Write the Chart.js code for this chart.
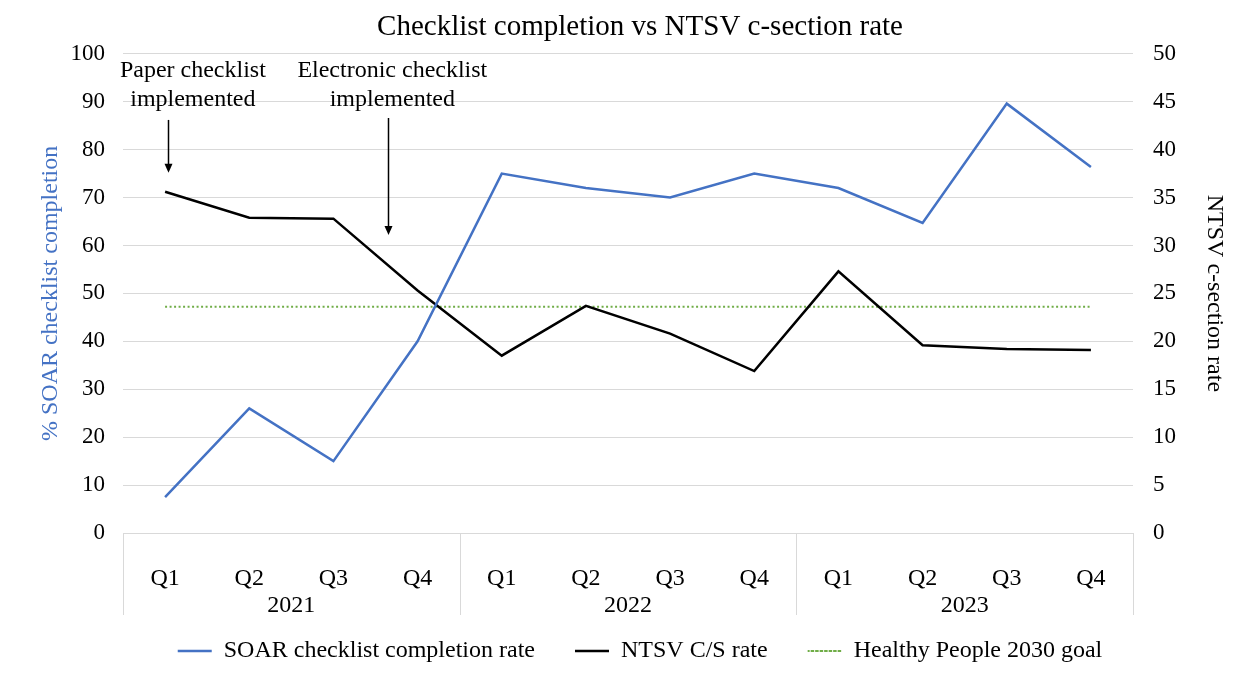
<!DOCTYPE html>
<html>
<head>
<meta charset="utf-8">
<script src="https://cdn.jsdelivr.net/npm/chart.js@4"></script>
<style>
  html, body { margin: 0; padding: 0; background: #fff; }
  #wrap { width: 1249px; height: 686px; }
</style>
</head>
<body>
<div id="wrap"><canvas id="chart" width="1249" height="686"></canvas></div>
<script>
const quarters = ['Q1', 'Q2', 'Q3', 'Q4', 'Q1', 'Q2', 'Q3', 'Q4', 'Q1', 'Q2', 'Q3', 'Q4'];
const years = ['2021', '2022', '2023'];
// % SOAR checklist completion (left axis)
const checklistRate = [7.5, 26, 15, 40, 75, 72, 70, 75, 72, 64.7, 89.6, 76.4];
// NTSV c-section rate (right axis)
const csRate = [35.6, 32.9, 32.8, 25.3, 18.5, 23.7, 20.8, 16.9, 27.3, 19.6, 19.2, 19.1];
// Healthy People 2030 goal (right axis)
const goalRate = [23.6, 23.6, 23.6, 23.6, 23.6, 23.6, 23.6, 23.6, 23.6, 23.6, 23.6, 23.6];

// annotations: x in category index units, y in left axis units
const notes = [
  { lines: ['Paper checklist', 'implemented'], textX: 0.33, arrowX: 0.04, textY: [96.5, 90.4], arrowFrom: 86.2, arrowTo: 75.2 },
  { lines: ['Electronic checklist', 'implemented'], textX: 2.7, arrowX: 2.65, textY: [96.5, 90.4], arrowFrom: 86.6, arrowTo: 62.2 }
];

const FONT = "'Liberation Serif', 'Times New Roman', serif";
const BLUE = '#4472C4';
const GRID = '#d9d9d9';

let xAt = (scale, v) => {
  let i = Math.floor(v);
  let a = scale.getPixelForValue(i);
  let b = scale.getPixelForValue(i + 1);
  return a + (b - a) * (v - i);
};

const extras = {
  id: 'extras',
  afterDraw(chart) {
    let ctx = chart.ctx;
    let x = chart.scales.x;
    let x2 = chart.scales.x2;
    let y = chart.scales.y;
    let bottom = chart.chartArea.bottom;
    let step = x.getPixelForValue(1) - x.getPixelForValue(0);
    ctx.save();
    // year separators under the axis
    ctx.strokeStyle = GRID;
    ctx.lineWidth = 1;
    for (let k = 0; k <= quarters.length; k += 4) {
      let px = Math.round(x.getPixelForValue(k) - step / 2) + 0.5;
      ctx.beginPath();
      ctx.moveTo(px, bottom);
      ctx.lineTo(px, bottom + 82);
      ctx.stroke();
    }
    // year labels, placed on the x2 category scale
    ctx.fillStyle = '#000';
    ctx.font = '24px ' + FONT;
    ctx.textAlign = 'center';
    ctx.textBaseline = 'middle';
    years.forEach((yr, i) => ctx.fillText(yr, x2.getPixelForValue(i), bottom + 73));
    // annotations
    ctx.strokeStyle = '#000';
    notes.forEach(n => {
      let tx = xAt(x, n.textX);
      n.lines.forEach((t, i) => ctx.fillText(t, tx, y.getPixelForValue(n.textY[i])));
      let ax = Math.round(xAt(x, n.arrowX)) + 0.5;
      let y0 = y.getPixelForValue(n.arrowFrom);
      let y1 = y.getPixelForValue(n.arrowTo);
      ctx.lineWidth = 1.5;
      ctx.beginPath();
      ctx.moveTo(ax, y0);
      ctx.lineTo(ax, y1 - 8);
      ctx.stroke();
      ctx.beginPath();
      ctx.moveTo(ax - 4, y1 - 9);
      ctx.lineTo(ax + 4, y1 - 9);
      ctx.lineTo(ax, y1);
      ctx.closePath();
      ctx.fill();
    });
    ctx.restore();
  }
};

new Chart(document.getElementById('chart'), {
  type: 'line',
  data: {
    labels: quarters,
    datasets: [
      {
        label: 'SOAR checklist completion rate',
        data: checklistRate,
        yAxisID: 'y',
        borderColor: BLUE,
        backgroundColor: BLUE,
        borderWidth: 2.5,
        pointRadius: 0,
        tension: 0
      },
      {
        label: 'NTSV C/S rate',
        data: csRate,
        yAxisID: 'y1',
        borderColor: '#000',
        backgroundColor: '#000',
        borderWidth: 2.5,
        pointRadius: 0,
        tension: 0
      },
      {
        label: 'Healthy People 2030 goal',
        data: goalRate,
        yAxisID: 'y1',
        borderColor: '#70AD47',
        backgroundColor: 'transparent',
        borderWidth: 2,
        borderDash: [2, 2.5],
        pointRadius: 0,
        tension: 0
      }
    ]
  },
  options: {
    responsive: false,
    animation: false,
    layout: { padding: { left: 31, right: 0, top: 4, bottom: 13 } },
    plugins: {
      title: {
        display: true,
        text: 'Checklist completion vs NTSV c-section rate',
        color: '#000',
        font: { family: FONT, size: 29, weight: 'normal' },
        padding: { top: 6, bottom: 9 }
      },
      legend: {
        position: 'bottom',
        labels: {
          color: '#000',
          font: { family: FONT, size: 24 },
          boxWidth: 34,
          boxHeight: 0,
          padding: 40
        }
      },
      tooltip: { enabled: false }
    },
    scales: {
      x: {
        type: 'category',
        offset: true,
        grid: { display: false },
        border: { display: false },
        ticks: { color: '#000', font: { family: FONT, size: 24 }, padding: 23, maxRotation: 0 },
        afterFit: s => { s.height = 58; }
      },
      x2: {
        type: 'category',
        labels: years,
        position: 'bottom',
        offset: true,
        grid: { display: false },
        border: { display: false },
        ticks: { display: false },
        afterFit: s => { s.height = 8; }
      },
      y: {
        position: 'left',
        min: 0,
        max: 100,
        ticks: { stepSize: 10, color: '#000', font: { family: FONT, size: 23 }, padding: 18 },
        grid: { color: GRID, drawTicks: false },
        border: { display: false },
        title: {
          display: true,
          text: '% SOAR checklist completion',
          color: BLUE,
          font: { family: FONT, size: 24 },
          padding: { top: 5, bottom: 0 }
        },
        afterFit: s => { s.width = 92; }
      },
      y1: {
        position: 'right',
        min: 0,
        max: 50,
        ticks: { stepSize: 5, color: '#000', font: { family: FONT, size: 23 }, padding: 12 },
        grid: { display: false },
        border: { display: false },
        title: {
          display: true,
          text: 'NTSV c-section rate',
          color: '#000',
          font: { family: FONT, size: 24 },
          padding: { top: 20, bottom: 0 }
        },
        afterFit: s => { s.width = 116; }
      }
    }
  },
  plugins: [extras]
});
</script>
</body>
</html>
